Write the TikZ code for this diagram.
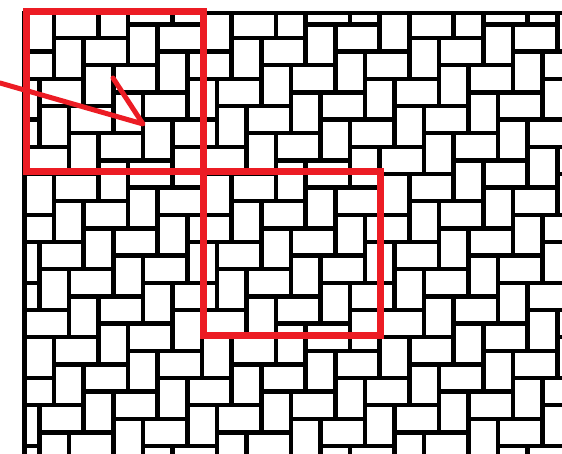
\documentclass[tikz,border=0pt]{standalone}
\definecolor{hlred}{RGB}{236,28,36}
\tikzset{
  brick/.style={draw=black, line width=4.5pt, line join=miter},
  border/.style={draw=black, line width=4.5pt},
  redframe/.style={draw=hlred, line width=7pt, line join=miter},
  redpointer/.style={draw=hlred, line width=5pt, line cap=round, line join=round}
}
\begin{document}
\begin{tikzpicture}[x=1pt,y=-1pt]
\useasboundingbox (0,0) rectangle (562,454);
\fill[white] (0,0) rectangle (562,454);
% herringbone paving
\begin{scope}
\clip (24.5,13) rectangle (562,454);
\foreach \a in {-13,...,10}{
  \foreach \b in {-6,...,10}{
    \pgfmathsetmacro\bx{409.3+29.6*\a-44.4*\b}
    \pgfmathsetmacro\by{174+27.2*\a+40.8*\b}
    \draw[brick] (\bx,\by) rectangle ++(44.4,27.2);
    \draw[brick] (\bx,\by+27.2) rectangle ++(29.6,40.8);
  }
}
\end{scope}
\coordinate (bl) at (24.5,454);
\coordinate (tl) at (24.5,13);
\coordinate (tr) at (562,13);
\draw[border] (bl) -- (tl) -- (tr);
% red frames
\coordinate (r1a) at (26,12);
\coordinate (r1b) at (203,172);
\coordinate (r2b) at (380,335);
\draw[redframe] (r1a) rectangle (r1b);
\draw[redframe] (r1b) rectangle (r2b);
% red pointer
\coordinate (p0) at (0,83);
\coordinate (p1) at (143,124);
\coordinate (p2) at (113,78);
\draw[redpointer] (p0) -- (p1) -- (p2);
\end{tikzpicture}
\end{document}
